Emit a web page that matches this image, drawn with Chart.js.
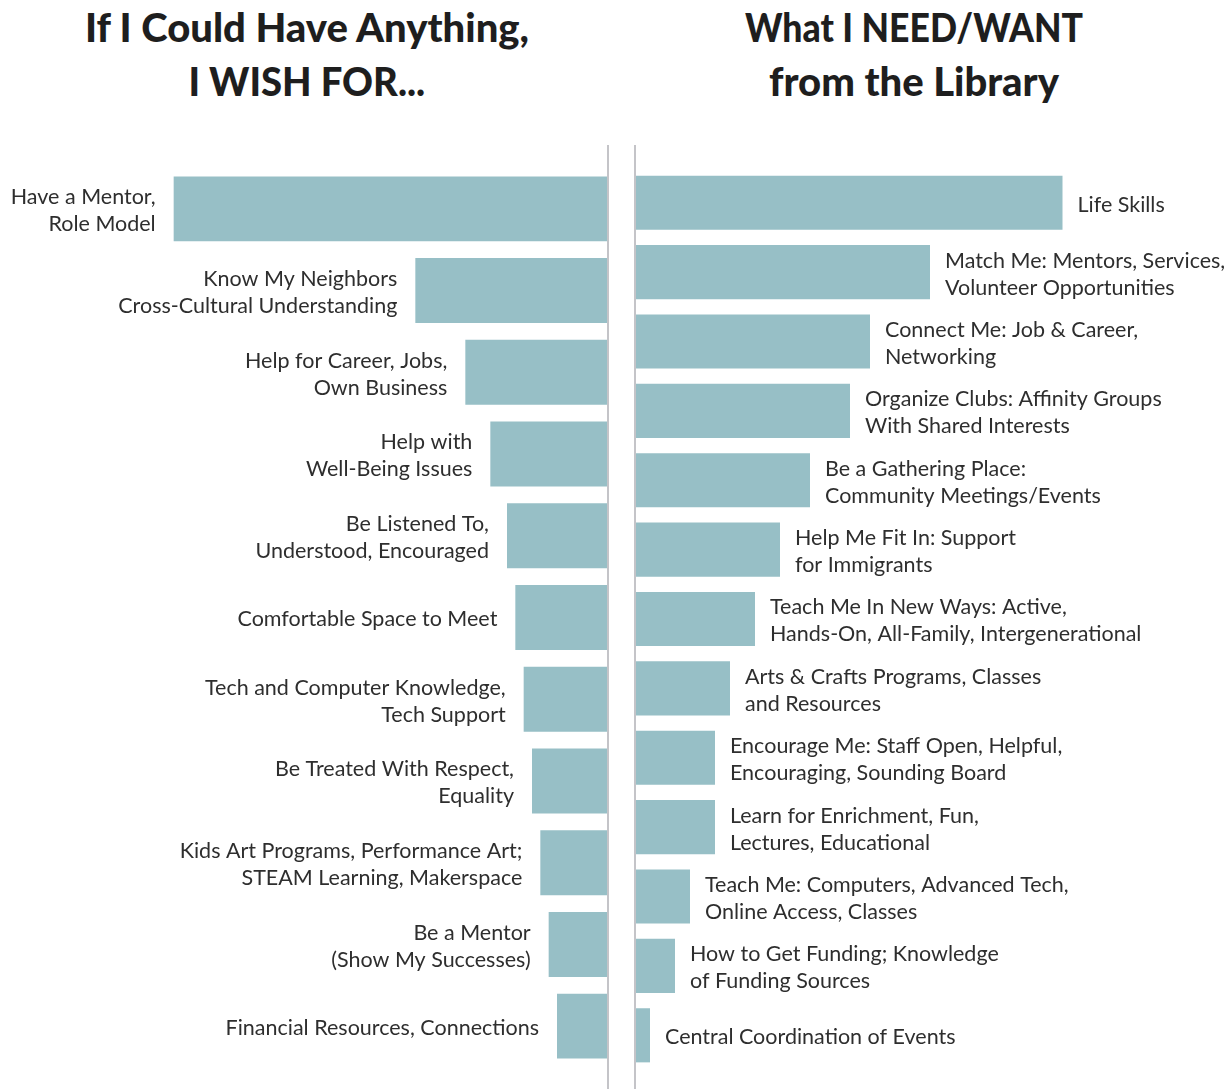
<!DOCTYPE html>
<html><head><meta charset="utf-8">
<script src="https://cdn.jsdelivr.net/npm/chart.js@4.4.1/dist/chart.umd.min.js"></script>
<style>
html,body{margin:0;padding:0;background:#fff;}
#wrap{position:relative;width:1224px;height:1089px;overflow:hidden;}
.title{position:absolute;top:0;font-family:Lato,"Noto Sans",sans-serif;font-weight:900;font-size:40px;line-height:54px;color:#1e1e1e;text-align:center;}
#tl{left:0;width:614px;}
#tr{left:614px;width:600px;}
.tight1{display:inline-block;transform:scaleX(0.955);}
.tight2{display:inline-block;transform:scaleX(0.89);}
#cl{position:absolute;left:0;top:0;}
#cr{position:absolute;left:620px;top:0;}
</style></head>
<body>
<div id="wrap">
  <div class="title" id="tl">If I Could Have Anything,<br><span class="tight1">I WISH FOR...</span></div>
  <div class="title" id="tr"><span class="tight2">What I NEED/WANT</span><br>from the Library</div>
  <canvas id="cl" width="620" height="1089"></canvas>
  <canvas id="cr" width="604" height="1089"></canvas>
</div>
<script>
const wishLabels = [
  ["Have a Mentor,","Role Model"],
  ["Know My Neighbors","Cross-Cultural Understanding"],
  ["Help for Career, Jobs,","Own Business"],
  ["Help with","Well-Being Issues"],
  ["Be Listened To,","Understood, Encouraged"],
  ["Comfortable Space to Meet"],
  ["Tech and Computer Knowledge,","Tech Support"],
  ["Be Treated With Respect,","Equality"],
  ["Kids Art Programs, Performance Art;","STEAM Learning, Makerspace"],
  ["Be a Mentor","(Show My Successes)"],
  ["Financial Resources, Connections"]
];
const wishValues = [52,23,17,14,12,11,10,9,8,7,6];

const needLabels = [
  ["Life Skills"],
  ["Match Me: Mentors, Services,","Volunteer Opportunities"],
  ["Connect Me: Job & Career,","Networking"],
  ["Organize Clubs: Affinity Groups","With Shared Interests"],
  ["Be a Gathering Place:","Community Meetings/Events"],
  ["Help Me Fit In: Support","for Immigrants"],
  ["Teach Me In New Ways: Active,","Hands-On, All-Family, Intergenerational"],
  ["Arts & Crafts Programs, Classes","and Resources"],
  ["Encourage Me: Staff Open, Helpful,","Encouraging, Sounding Board"],
  ["Learn for Enrichment, Fun,","Lectures, Educational"],
  ["Teach Me: Computers, Advanced Tech,","Online Access, Classes"],
  ["How to Get Funding; Knowledge","of Funding Sources"],
  ["Central Coordination of Events"]
];
const needValues = [85.5,59,47,43,35,29,24,19,16,16,11,8,3];

const BAR_COLOR = '#97BFC6';
const TEXT_COLOR = '#2e2e2e';

const sidePlugin = {
  id: 'side',
  afterDatasetsDraw(chart, args, opts) {
    const ctx = chart.ctx;
    const meta = chart.getDatasetMeta(0);
    const xs = chart.scales.x;
    const x0 = xs.getPixelForValue(0) + opts.lineShift;
    ctx.save();
    ctx.strokeStyle = '#c4c4c8';
    ctx.lineWidth = 2;
    ctx.beginPath();
    ctx.moveTo(x0, opts.lineTop);
    ctx.lineTo(x0, chart.height);
    ctx.stroke();
    ctx.font = '21.5px Lato';
    ctx.fillStyle = TEXT_COLOR;
    ctx.textBaseline = 'middle';
    ctx.textAlign = opts.side === 'left' ? 'right' : 'left';
    meta.data.forEach((bar, i) => {
      const arr = chart.data.labels[i];
      const tx = opts.side === 'left' ? bar.x - opts.gap : bar.x + opts.gap;
      const lh = 27;
      const y0 = bar.y + 2 - (arr.length - 1) * lh / 2;
      arr.forEach((t, j) => ctx.fillText(t, tx, y0 + j * lh));
    });
    ctx.restore();
  }
};

function makeChart(id, labels, values, opt) {
  return new Chart(document.getElementById(id), {
    type: 'bar',
    data: {
      labels: labels,
      datasets: [{
        data: values,
        backgroundColor: BAR_COLOR,
        borderWidth: 0,
        categoryPercentage: 1,
        barPercentage: opt.barPct
      }]
    },
    options: {
      indexAxis: 'y',
      responsive: false,
      animation: false,
      layout: { padding: opt.padding },
      plugins: {
        legend: { display: false },
        tooltip: { enabled: false },
        title: { display: false },
        side: { side: opt.side, gap: opt.gap, lineTop: 145, lineShift: opt.lineShift }
      },
      scales: {
        x: { display: false, min: 0, max: opt.max, reverse: opt.reverse },
        y: { display: false }
      }
    },
    plugins: [sidePlugin]
  });
}

makeChart('cl', wishLabels, wishValues, {
  side: 'left', reverse: true, max: 72, barPct: 0.795, lineShift: 1, gap: 18,
  padding: { left: 7, right: 13, top: 168, bottom: 22 }
});
makeChart('cr', needLabels, needValues, {
  side: 'right', reverse: false, max: 115, barPct: 0.78, lineShift: 0, gap: 15,
  padding: { left: 15, right: 14, top: 168, bottom: 19 }
});
</script>
</body></html>
